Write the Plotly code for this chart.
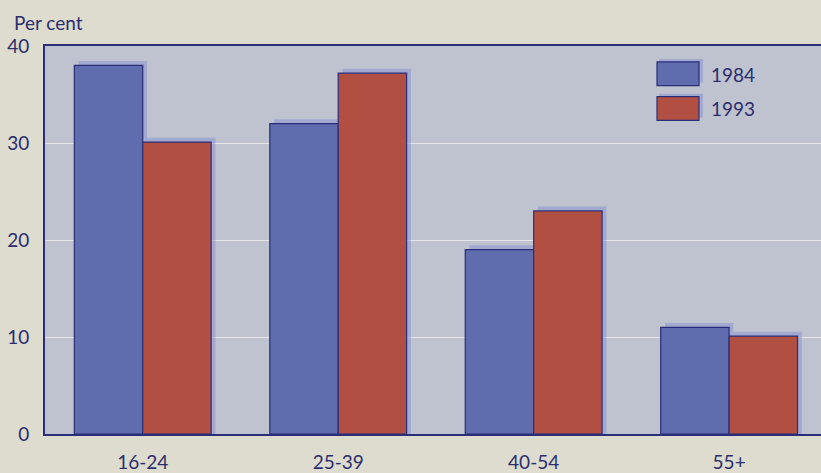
import plotly.graph_objects as go

categories = ["16-24", "25-39", "40-54", "55+"]
series_names = ["1984", "1993"]
values_1984 = [38.0, 32.0, 19.0, 11.0]
values_1993 = [30.1, 37.2, 23.0, 10.1]
y_ticks = [0, 10, 20, 30, 40]

BG = "#dedbcf"
PLOT_BG = "#bfc2cf"
BLUE = "#5f6cae"
RED = "#b24f43"
NAVY = "#2a2e78"
SHADOW = "rgba(125,140,210,0.45)"
TEXT = "#2b2e6c"
FONT = "Lato"

series = [(series_names[0], values_1984, BLUE), (series_names[1], values_1993, RED)]
bw = 0.35
offsets = [-bw, 0.0]

fig = go.Figure()
# shadows
for (name, vals, col), off in zip(series, offsets):
    fig.add_bar(x=categories, y=[v + 0.45 for v in vals], offset=off + 0.022, width=bw,
                marker=dict(color=SHADOW, line=dict(width=0)), showlegend=False, hoverinfo="skip")
# bars
for (name, vals, col), off in zip(series, offsets):
    fig.add_bar(x=categories, y=vals, name=name, offset=off, width=bw,
                marker=dict(color=col, line=dict(color=NAVY, width=1.2)), showlegend=False)

# custom legend (large swatches like the original)
plot_l, plot_r, plot_t, plot_b = 45, 821, 46, 437
W, H = plot_r - plot_l, plot_b - plot_t
def px(x): return (x - plot_l) / W
def py(y): return (plot_b - y) / H

leg = [(series_names[0], BLUE, 62, 86, 75), (series_names[1], RED, 97, 121, 109)]
for name, col, t, b, c in leg:
    fig.add_shape(type="rect", xref="paper", yref="paper",
                  x0=px(659), x1=px(703), y0=py(b - 3), y1=py(t - 3),
                  fillcolor=SHADOW, line=dict(width=0), layer="above")
    fig.add_shape(type="rect", xref="paper", yref="paper",
                  x0=px(657), x1=px(699), y0=py(b), y1=py(t),
                  fillcolor=col, line=dict(color=NAVY, width=1.2), layer="above")
    fig.add_annotation(text=name, xref="paper", yref="paper", x=px(709), y=py(c),
                       xanchor="left", yanchor="middle", showarrow=False,
                       font=dict(family=FONT, size=19, color=TEXT))

fig.add_annotation(text="Per cent", xref="paper", yref="paper", x=px(12), y=py(22),
                   xanchor="left", yanchor="middle", showarrow=False,
                   font=dict(family=FONT, size=19, color=TEXT))

fig.update_layout(
    width=821, height=473,
    margin=dict(l=plot_l, r=821 - plot_r, t=plot_t, b=473 - plot_b),
    paper_bgcolor=BG, plot_bgcolor=PLOT_BG,
    barmode="overlay",
    font=dict(family=FONT, size=19, color=TEXT),
    showlegend=False,
)
fig.update_xaxes(range=[-0.5, 3.47], showline=True, linecolor=NAVY, linewidth=2, mirror=True,
                 showgrid=False, ticks="", ticklabelstandoff=10,
                 tickfont=dict(family=FONT, size=19, color=TEXT))
fig.update_yaxes(range=[0, 40], tickvals=y_ticks, showline=True, linecolor=NAVY, linewidth=2,
                 showgrid=True, gridcolor="#e6e6ea", gridwidth=1, zeroline=False,
                 ticks="", ticklabelstandoff=10,
                 tickfont=dict(family=FONT, size=19, color=TEXT))

fig.write_html("out.html")
